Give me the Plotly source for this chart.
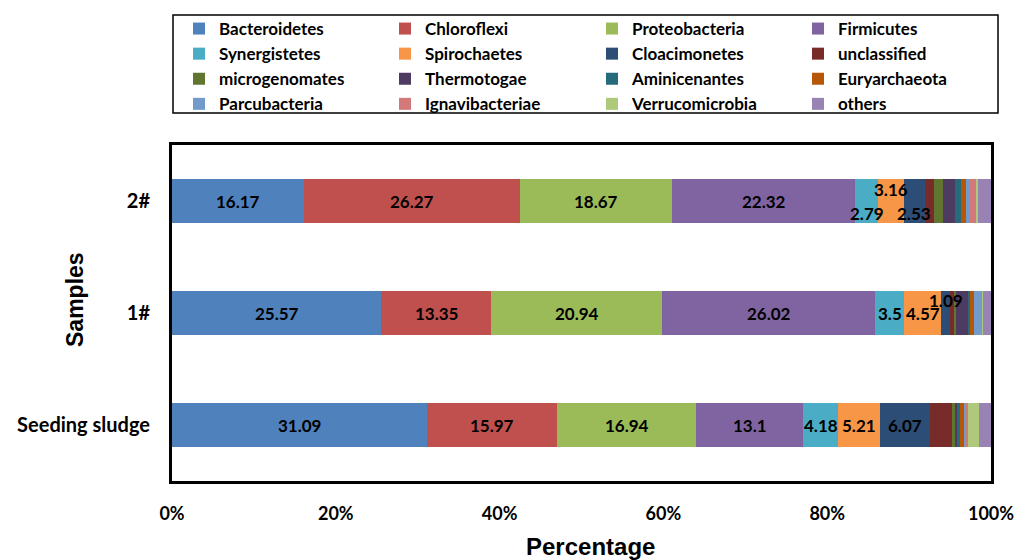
import plotly.graph_objects as go

# Samples (bottom to top on the category axis)
samples = ["Seeding sludge", "1#", "2#"]

# Phylum names in stacking / legend order
phyla = [
    "Bacteroidetes", "Chloroflexi", "Proteobacteria", "Firmicutes",
    "Synergistetes", "Spirochaetes", "Cloacimonetes", "unclassified",
    "microgenomates", "Thermotogae", "Aminicenantes", "Euryarchaeota",
    "Parcubacteria", "Ignavibacteriae", "Verrucomicrobia", "others",
]

# Relative abundance (%) per sample: [Seeding sludge, 1#, 2#]
bacteroidetes = [31.09, 25.57, 16.17]
chloroflexi = [15.97, 13.35, 26.27]
proteobacteria = [16.94, 20.94, 18.67]
firmicutes = [13.10, 26.02, 22.32]
synergistetes = [4.18, 3.50, 2.79]
spirochaetes = [5.21, 4.57, 3.16]
cloacimonetes = [6.07, 1.09, 2.53]
unclassified = [2.64, 0.45, 1.15]
microgenomates = [0.50, 0.25, 1.10]
thermotogae = [0.10, 1.50, 1.45]
aminicenantes = [0.45, 0.20, 0.70]
euryarchaeota = [0.57, 0.50, 0.65]
parcubacteria = [0.10, 1.00, 0.45]
ignavibacteriae = [0.30, 0.03, 0.85]
verrucomicrobia = [1.30, 0.03, 0.20]
others = [1.47, 1.00, 1.54]

values = [
    bacteroidetes, chloroflexi, proteobacteria, firmicutes,
    synergistetes, spirochaetes, cloacimonetes, unclassified,
    microgenomates, thermotogae, aminicenantes, euryarchaeota,
    parcubacteria, ignavibacteriae, verrucomicrobia, others,
]

colors = [
    "#4F81BD", "#C0504D", "#9BBB59", "#8064A2",
    "#4BACC6", "#F79646", "#2C4D75", "#772C2A",
    "#5F7530", "#4D3B62", "#276A7C", "#B65708",
    "#729ACA", "#D4797A", "#AFC97A", "#9983B5",
]

# Percentage axis ticks
x_ticks = [0, 20, 40, 60, 80, 100]
x_tick_labels = ["0%", "20%", "40%", "60%", "80%", "100%"]

# Number of leading phyla whose values are printed on the bars
n_labelled = 7
# Vertical nudges (px) for labels that would otherwise collide: (phylum, sample) -> shift
label_shift = {
    (4, "2#"): -12, (5, "2#"): 12, (6, "2#"): -12,
    (6, "1#"): 13,
}

W, H = 1016, 560
M_L, M_R, M_T, M_B = 172, 25, 145, 79
PLOT_W = W - M_L - M_R
PLOT_H = H - M_T - M_B

# Legend laid out as four columns, filled row by row
n_cols = 4
legend_names = ["legend", "legend2", "legend3", "legend4"]
col_left_px = [179, 385, 592, 798]

fig = go.Figure()
for i, (name, vals, col) in enumerate(zip(phyla, values, colors)):
    fig.add_trace(go.Bar(
        y=samples, x=vals, name=name, orientation="h",
        marker=dict(color=col, line=dict(width=0)),
        width=0.4,
        legend=legend_names[i % n_cols],
    ))

annotations = []
cum = [0.0] * len(samples)
for i, vals in enumerate(values):
    for j, s in enumerate(samples):
        if i < n_labelled:
            annotations.append(dict(
                x=cum[j] + vals[j] / 2, y=s, xref="x", yref="y",
                text=f"{vals[j]:g}", showarrow=False,
                yshift=label_shift.get((i, s), 0),
                font=dict(family="Lato", size=17, color="black", weight="bold"),
            ))
        cum[j] += vals[j]

annotations.append(dict(
    text="Percentage", x=(590 - M_L) / PLOT_W, y=0, xref="paper", yref="paper",
    yshift=-65, showarrow=False, yanchor="middle",
    font=dict(family="Liberation Sans", size=24, color="black", weight="bold"),
))
annotations.append(dict(
    text="Samples", x=-97 / PLOT_W, y=(H - M_B - 300) / PLOT_H,
    xref="paper", yref="paper",
    showarrow=False, textangle=-90, xanchor="center", yanchor="middle",
    font=dict(family="Liberation Sans", size=23, color="black", weight="bold"),
))

legend_font = dict(family="Lato", size=17, color="black", weight="bold")
legends = {}
for k, lname in enumerate(legend_names):
    legends[lname] = dict(
        orientation="v", traceorder="normal",
        xref="container", x=col_left_px[k] / W, xanchor="left",
        yref="container", y=1 - 11 / H, yanchor="top",
        borderwidth=0, bgcolor="rgba(0,0,0,0)",
        font=legend_font, tracegroupgap=0, itemwidth=30,
    )

# Frame around the legend block
legend_box = dict(
    type="rect", xref="paper", yref="paper",
    x0=(173 - M_L) / PLOT_W, x1=(998 - M_L) / PLOT_W,
    y0=(H - M_B - 113) / PLOT_H, y1=(H - M_B - 15) / PLOT_H,
    line=dict(color="black", width=1.5), fillcolor="rgba(0,0,0,0)",
    layer="above",
)

fig.update_layout(
    width=W, height=H,
    margin=dict(l=M_L, r=M_R, t=M_T, b=M_B, autoexpand=False),
    paper_bgcolor="white", plot_bgcolor="white",
    barmode="stack",
    annotations=annotations,
    shapes=[legend_box],
    showlegend=True,
    xaxis=dict(
        range=[0, 100], tickmode="array", tickvals=x_ticks, ticktext=x_tick_labels,
        showgrid=False, zeroline=False,
        showline=True, linecolor="black", linewidth=3, mirror=True,
        ticks="", ticklabelstandoff=14,
        tickfont=dict(family="Lato", size=18, color="black", weight="bold"),
    ),
    yaxis=dict(
        categoryorder="array", categoryarray=samples,
        range=[-0.5, 2.5], showgrid=False, zeroline=False,
        showline=True, linecolor="black", linewidth=3, mirror=True,
        ticks="", ticklabelstandoff=15,
        tickfont=dict(family="Lato", size=20, color="black", weight="bold"),
    ),
    **legends,
)

fig.write_html("out.html")
